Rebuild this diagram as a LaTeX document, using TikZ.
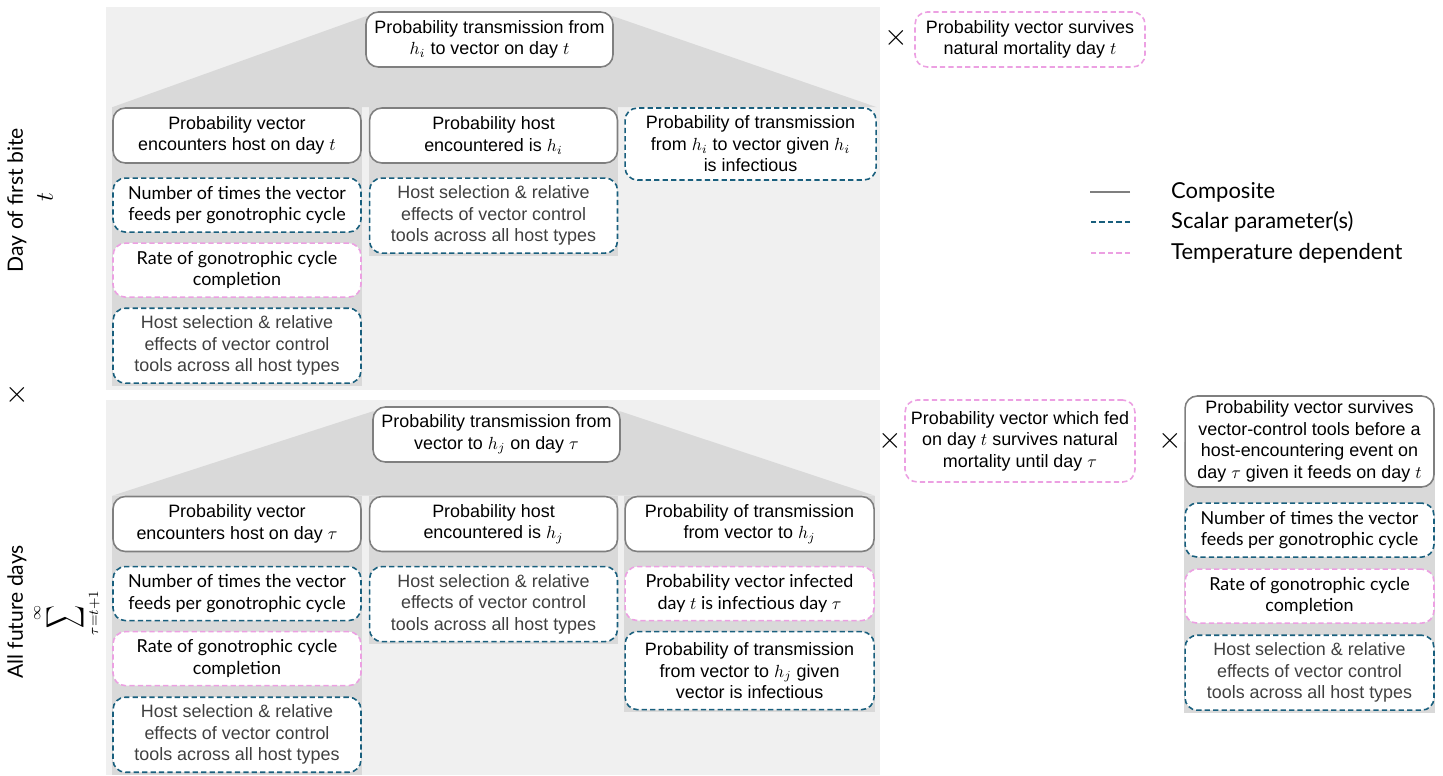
\documentclass[tikz,border=0pt]{standalone}
\usepackage{fontspec}
\setmainfont{Liberation Sans}
\newfontfamily\altfont{Lato}
\usetikzlibrary{positioning,backgrounds,calc}
\definecolor{panelgray}{RGB}{240,240,240}
\definecolor{bandgray}{RGB}{217,217,217}
\definecolor{compgray}{RGB}{127,127,127}
\definecolor{scalblue}{RGB}{25,95,125}
\definecolor{temppink}{RGB}{236,160,226}
\definecolor{hosttext}{RGB}{64,64,64}
\tikzset{
  composite/.style = {draw=compgray, line width=0.9pt, rounded corners=7pt,
                      fill=white, align=center, minimum width=4.96cm,
                      minimum height=1.1cm, inner sep=2pt,
                      font=\fontsize{10.2}{12.2}\selectfont},
  scalar/.style    = {composite, draw=scalblue, dash pattern=on 3pt off 1.8pt,
                      minimum height=1.08cm},
  tempdep/.style   = {composite, draw=temppink, dash pattern=on 3pt off 1.8pt,
                      minimum height=1.08cm},
  alt/.style       = {font=\altfont\fontsize{10.2}{12.2}\selectfont},
  hostcol/.style   = {text=hosttext},
  mult/.style      = {font=\fontsize{17}{17}\selectfont, inner sep=0pt},
  sidelabel/.style = {rotate=90, font=\altfont\fontsize{12}{14}\selectfont},
  legtext/.style   = {anchor=west, font=\altfont\fontsize{12.5}{14}\selectfont}
}

\begin{document}
\begin{tikzpicture}[x=0.02cm, y=-0.02cm]
\useasboundingbox (0,0) rectangle (1443,775);

\coordinate (P1nw) at (106,7);
\coordinate (P1se) at (880,390);
\coordinate (P2nw) at (106,400);
\coordinate (P2se) at (880,775);

%% --- side labels ---
\node[sidelabel] (D1) at (17,200) {Day of first bite};
\node[rotate=90, font=\fontsize{15}{15}\selectfont] (D1t) at (45,197) {$t$};
\node[mult] (X0) at (17,395) {$\times$};
\node[sidelabel] (D2) at (17,612) {All future days};
\node[rotate=90, font=\fontsize{11}{11}\selectfont] (SUM) at (67,613)
  {$\displaystyle\mathop{\scalebox{0.9}[1.5]{$\displaystyle\sum$}}\limits_{\tau=t+1}^{\infty}$};

%% --- Top panel: first bite ---
\node[composite, minimum width=4.94cm] (Ttop) at (489.5,39.5)
  {Probability transmission from\\ $h_i$ to vector on day $t$};
\node[composite] (A1) at (237,135.5)
  {Probability vector\\ encounters host on day $t$};
\node[composite, right=0.14cm of A1] (A2)
  {Probability host\\ encountered is $h_i$};
\node[scalar, minimum width=5.02cm, minimum height=1.44cm, anchor=north west]
  (A3) at ([xshift=0.12cm]A2.north east)
  {Probability of transmission\\ from $h_i$ to vector given $h_i$\\ is infectious};

\node[scalar, alt, below=0.27cm of A1] (N1)
  {Number of times the vector\\ feeds per gonotrophic cycle};
\node[tempdep, alt, below=0.19cm of N1] (R1)
  {Rate of gonotrophic cycle\\ completion};
\node[scalar, hostcol, minimum height=1.5cm, below=0.19cm of R1] (H1)
  {Host selection \& relative\\ effects of vector control\\ tools across all host types};
\node[scalar, hostcol, minimum height=1.5cm, below=0.27cm of A2] (H2)
  {Host selection \& relative\\ effects of vector control\\ tools across all host types};

\node[mult] (X1) at (896,38) {$\times$};
\node[tempdep, minimum width=4.6cm, minimum height=1.1cm] (S1) at (1030,39.5)
  {Probability vector survives\\ natural mortality day $t$};

%% --- legend ---
\node[legtext] (L1) at (1165,192) {Composite};
\node[legtext] (L2) at (1165,222) {Scalar parameter(s)};
\node[legtext] (L3) at (1165,253) {Temperature dependent};
\draw[compgray, line width=1pt] ([xshift=-0.7cm]L1.west) -- ++(-0.8cm,0);
\draw[scalblue, line width=1pt, dash pattern=on 3pt off 1.8pt]
  ([xshift=-0.7cm]L2.west) -- ++(-0.8cm,0);
\draw[temppink, line width=1pt, dash pattern=on 3pt off 1.8pt]
  ([xshift=-0.7cm]L3.west) -- ++(-0.8cm,0);

%% --- Bottom panel: future days ---
\node[composite, minimum width=4.94cm] (Tbot) at (496.5,434.5)
  {Probability transmission from\\ vector to $h_j$ on day $\tau$};
\node[composite] (B1) at (237,524)
  {Probability vector\\ encounters host on day $\tau$};
\node[composite, right=0.14cm of B1] (B2)
  {Probability host\\ encountered is $h_j$};
\node[composite, minimum width=4.98cm, right=0.12cm of B2] (B3)
  {Probability of transmission\\ from vector to $h_j$};

\node[scalar, alt, below=0.27cm of B1] (N3)
  {Number of times the vector\\ feeds per gonotrophic cycle};
\node[tempdep, alt, below=0.19cm of N3] (R3)
  {Rate of gonotrophic cycle\\ completion};
\node[scalar, hostcol, minimum height=1.5cm, below=0.2cm of R3] (H3)
  {Host selection \& relative\\ effects of vector control\\ tools across all host types};
\node[scalar, hostcol, minimum height=1.5cm, below=0.27cm of B2] (H4)
  {Host selection \& relative\\ effects of vector control\\ tools across all host types};
\node[tempdep, alt, minimum width=4.98cm, below=0.27cm of B3] (P5)
  {Probability vector infected\\ day $t$ is infectious day $\tau$};
\node[scalar, minimum width=4.98cm, minimum height=1.56cm, below=0.19cm of P5] (G5)
  {Probability of transmission\\ from vector to $h_j$ given\\ vector is infectious};

\node[mult] (X2) at (890,441) {$\times$};
\node[tempdep, minimum width=4.6cm, minimum height=1.64cm] (S2) at (1020,441)
  {Probability vector which fed\\ on day $t$ survives natural\\ mortality until day $\tau$};
\node[mult] (X3) at (1170,441) {$\times$};
\node[composite, minimum width=4.98cm, minimum height=1.82cm] (C6) at (1309.5,441.5)
  {Probability vector survives\\ vector-control tools before a\\ host-encountering event on\\ day $\tau$ given it feeds on day $t$};
\node[scalar, alt, minimum width=4.98cm, below=0.29cm of C6] (N6)
  {Number of times the vector\\ feeds per gonotrophic cycle};
\node[tempdep, alt, minimum width=4.98cm, below=0.21cm of N6] (R6)
  {Rate of gonotrophic cycle\\ completion};
\node[scalar, hostcol, minimum width=4.98cm, minimum height=1.5cm, below=0.21cm of R6] (H6)
  {Host selection \& relative\\ effects of vector control\\ tools across all host types};

%% --- panels and grey bands ---
\begin{scope}[on background layer]
  \fill[panelgray] (P1nw) rectangle (P1se);
  \fill[panelgray] (P2nw) rectangle (P2se);
  \fill[bandgray] ([yshift=-3pt]Ttop.north west) -- ([yshift=-3pt]Ttop.north east)
    -- (A3.north east) -- (A1.north west) -- cycle;
  \fill[bandgray] (A1.north west) rectangle ([yshift=-1pt]H1.south east);
  \fill[bandgray] (A2.north west) rectangle ([yshift=-1pt]H2.south east);
  \fill[bandgray] ([yshift=-3pt]Tbot.north west) -- ([yshift=-3pt]Tbot.north east)
    -- (B3.north east) -- (B1.north west) -- cycle;
  \fill[bandgray] (B1.north west) rectangle (P2se -| H3.east);
  \fill[bandgray] (B2.north west) rectangle ([yshift=-1pt]H4.south east);
  \fill[bandgray] (B3.north west) rectangle ([yshift=-1pt]G5.south east);
  \fill[bandgray] (C6.west) rectangle ([yshift=-1pt]H6.south east);
\end{scope}

\end{tikzpicture}
\end{document}
